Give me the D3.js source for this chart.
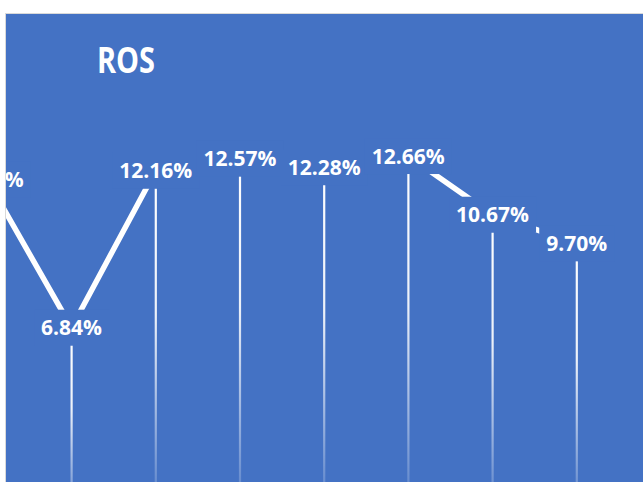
<!DOCTYPE html>
<html>
<head>
<meta charset="utf-8">
<script src="https://cdn.jsdelivr.net/npm/d3@7"></script>
<style>
  html, body { margin: 0; padding: 0; background: #fff; }
  svg { display: block; }
</style>
</head>
<body>
<script>
// data (first point only partly visible)
var categories = ["P1", "P2", "P3", "P4", "P5", "P6", "P7", "P8"];
var ros = [11.85, 6.84, 12.16, 12.57, 12.28, 12.66, 10.67, 9.70];
var title = "ROS";

var width = 643,
    height = 482,
    blue = "#4472c4";

var svg = d3.select("body").append("svg")
    .attr("width", width)
    .attr("height", height);

var defs = svg.append("defs");

defs.append("clipPath")
    .attr("id", "clip")
  .append("rect")
    .attr("x", 6).attr("y", 14)
    .attr("width", width - 6).attr("height", height - 14);

// drop lines fade out towards the axis
var grad = defs.append("linearGradient")
    .attr("id", "fade")
    .attr("x1", 0).attr("y1", 0)
    .attr("x2", 0).attr("y2", 1);
grad.append("stop").attr("offset", "0%").attr("stop-color", "#fff").attr("stop-opacity", 1);
grad.append("stop").attr("offset", "40%").attr("stop-color", "#fff").attr("stop-opacity", 0.9);
grad.append("stop").attr("offset", "100%").attr("stop-color", "#fff").attr("stop-opacity", 0);

// chart area
svg.append("rect")
    .attr("x", 5.5).attr("y", 13.5)
    .attr("width", width).attr("height", height)
    .attr("fill", blue)
    .attr("stroke", "#d9d9d9")
    .attr("stroke-width", 1);

var x = d3.scalePoint()
    .domain(categories)
    .range([-12.7, 576.7]);

var y = d3.scaleLinear()
    .domain([0, 14])
    .range([529.5, 529.5 - 14 * 29.5]);

var data = categories.map(function(c, i) { return {cat: c, v: ros[i]}; });

var plot = svg.append("g")
    .attr("clip-path", "url(#clip)");

// drop lines (rects so the bounding-box gradient works)
plot.selectAll(".drop")
    .data(data)
  .enter().append("rect")
    .attr("class", "drop")
    .attr("x", function(d) { return x(d.cat) - 1; })
    .attr("y", function(d) { return y(d.v); })
    .attr("width", 2.2)
    .attr("height", function(d) { return y(0) - y(d.v); })
    .attr("fill", "url(#fade)");

var line = d3.line()
    .x(function(d) { return x(d.cat); })
    .y(function(d) { return y(d.v); });

plot.append("path")
    .datum(data)
    .attr("d", line)
    .attr("fill", "none")
    .attr("stroke", "#fff")
    .attr("stroke-width", 5.5)
    .attr("stroke-linejoin", "round");

// data labels, centred on the points with a filled box
var fmt = function(v) { return d3.format(".2f")(v) + "%"; };

var labels = plot.selectAll(".label")
    .data(data)
  .enter().append("g")
    .attr("class", "label")
    .attr("transform", function(d) { return "translate(" + x(d.cat) + "," + y(d.v) + ")"; });

var box = labels.append("rect")
    .attr("fill", blue);

var txt = labels.append("text")
    .attr("text-anchor", "middle")
    .attr("dy", "0.36em")
    .attr("fill", "#fff")
    .style("font-family", "'Open Sans', sans-serif")
    .style("font-weight", 700)
    .style("font-size", "21px")
    .text(function(d) { return fmt(d.v); });

txt.each(function() {
  var bb = this.getBBox();
  d3.select(this.previousSibling)
      .attr("x", bb.x - 7)
      .attr("y", -18)
      .attr("width", bb.width + 14)
      .attr("height", 36);
});

svg.append("text")
    .attr("x", 126)
    .attr("y", 73)
    .attr("text-anchor", "middle")
    .attr("fill", "#fff")
    .attr("textLength", 58)
    .attr("lengthAdjust", "spacingAndGlyphs")
    .style("font-family", "'Open Sans', sans-serif")
    .style("font-weight", 700)
    .style("font-size", "36px")
    .text(title);
</script>
</body>
</html>
